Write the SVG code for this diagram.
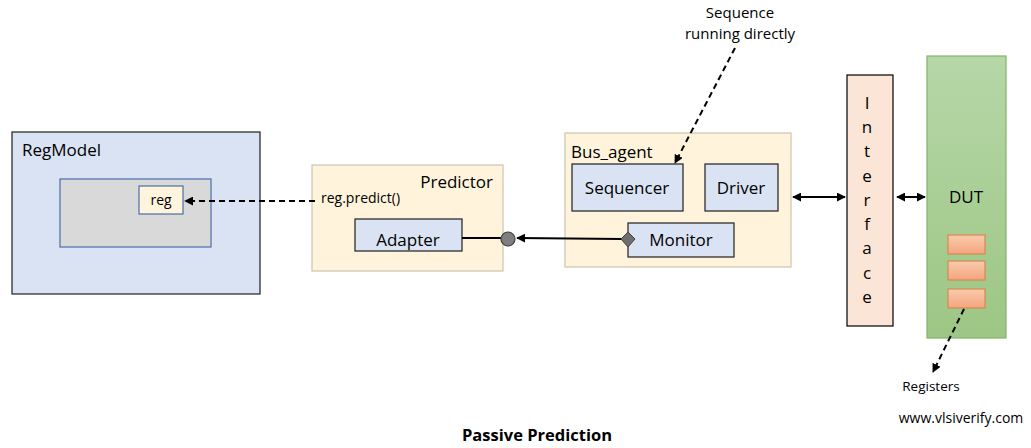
<svg xmlns="http://www.w3.org/2000/svg" width="1031" height="448" viewBox="0 0 1031 448">
<style>
text{font-family:"Open Sans","Liberation Sans",Arial,sans-serif;fill:#000}
.lbl{font-size:17px}
.sm{font-size:14px}
.blue{fill:#dae3f3;stroke:#1f1f1f;stroke-width:1.2}
.cream{fill:#fff4db;stroke:#cbc3b0;stroke-width:1.2}
.dash{fill:none;stroke:#000;stroke-width:2;stroke-dasharray:6 4}
.solid{fill:none;stroke:#000;stroke-width:2}
</style>
<defs>
<marker id="ah" viewBox="0 0 10 10" refX="9" refY="5" markerWidth="4.5" markerHeight="4.5" orient="auto-start-reverse"><path d="M0,0 L10,5 L0,10 z" fill="#000"/></marker>
<linearGradient id="dutg" x1="0" y1="0" x2="0" y2="1"><stop offset="0" stop-color="#b6d7a8"/><stop offset="1" stop-color="#9dc684"/></linearGradient>
<linearGradient id="regg" x1="0" y1="0" x2="0" y2="1"><stop offset="0" stop-color="#f8cbad"/><stop offset="1" stop-color="#f4a57e"/></linearGradient>
</defs>
<rect width="1031" height="448" fill="#fff"/>
<g id="regmodel">
<rect class="blue" x="12" y="132" width="248" height="162"/>
<text class="lbl" x="22" y="156">RegModel</text>
<rect x="60" y="179" width="151" height="68" fill="#d9d9d9" stroke="#4a6fa8" stroke-width="1.2"/>
</g>
<g id="reg">
<rect x="139" y="186" width="44" height="28" fill="#fff5dc" stroke="#4a6fa8" stroke-width="1.2"/>
<text class="sm" x="161" y="205" text-anchor="middle">reg</text>
</g>
<g id="predictor">
<rect class="cream" x="312" y="165" width="191" height="106"/>
<text class="lbl" x="493" y="188" text-anchor="end">Predictor</text>
<text class="sm" x="321" y="203">reg.predict()</text>
</g>
<g id="adapter">
<rect class="blue" x="355" y="219" width="107" height="32"/>
<text class="lbl" x="408" y="246" text-anchor="middle">Adapter</text>
</g>
<g id="bus_agent">
<rect class="cream" x="565" y="133" width="226" height="134"/>
<text class="lbl" x="571" y="158">Bus_agent</text>
</g>
<g id="sequencer">
<rect class="blue" x="572" y="164" width="111" height="47"/>
<text class="lbl" x="627" y="194" text-anchor="middle">Sequencer</text>
</g>
<g id="driver">
<rect class="blue" x="705" y="164" width="73" height="47"/>
<text class="lbl" x="741" y="194" text-anchor="middle">Driver</text>
</g>
<g id="monitor">
<rect class="blue" x="628" y="223" width="106" height="34"/>
<text class="lbl" x="681" y="246" text-anchor="middle">Monitor</text>
</g>
<g id="interface">
<rect x="847" y="75" width="46" height="251" fill="#fbe5d6" stroke="#000" stroke-width="1.2"/>
<text class="lbl" x="867" y="109" text-anchor="middle">I</text>
<text class="lbl" x="867" y="133" text-anchor="middle">n</text>
<text class="lbl" x="867" y="157" text-anchor="middle">t</text>
<text class="lbl" x="867" y="182" text-anchor="middle">e</text>
<text class="lbl" x="867" y="206" text-anchor="middle">r</text>
<text class="lbl" x="867" y="230" text-anchor="middle">f</text>
<text class="lbl" x="867" y="254" text-anchor="middle">a</text>
<text class="lbl" x="867" y="279" text-anchor="middle">c</text>
<text class="lbl" x="867" y="303" text-anchor="middle">e</text>
</g>
<g id="dut">
<rect x="927" y="56" width="79" height="282" fill="url(#dutg)" stroke="#82b366" stroke-width="1.2"/>
<text class="lbl" x="966" y="203" text-anchor="middle">DUT</text>
<rect x="948" y="235" width="37" height="19" fill="url(#regg)" stroke="#d9884f" stroke-width="1.2"/>
<rect x="948" y="261" width="37" height="19" fill="url(#regg)" stroke="#d9884f" stroke-width="1.2"/>
<rect x="948" y="289" width="37" height="19" fill="url(#regg)" stroke="#d9884f" stroke-width="1.2"/>
</g>
<g id="labels">
<text x="740" y="18" text-anchor="middle" style="font-size:15px">Sequence</text>
<text x="740" y="39" text-anchor="middle" style="font-size:15px">running directly</text>
<text x="931" y="391" text-anchor="middle" style="font-size:13.5px">Registers</text>
<text x="961" y="423" text-anchor="middle" style="font-size:14px">www.vlsiverify.com</text>
<text x="537" y="441" text-anchor="middle" style="font-size:16.5px;font-weight:bold">Passive Prediction</text>
</g>
<g id="connectors">
<path class="dash" d="M315,201 L185,201" marker-end="url(#ah)"/>
<path class="solid" d="M462,238 L501,238"/>
<circle cx="508" cy="239" r="7" fill="#7f7f7f" stroke="#404040" stroke-width="1.2"/>
<path class="solid" d="M622,239 L517,238" marker-end="url(#ah)" stroke-width="1.8"/>
<path d="M628,232 L635,239 L628,247 L621,239 z" fill="#6f6f6f" stroke="#404040" stroke-width="1"/>
<path class="dash" d="M735,48 L675,163" marker-end="url(#ah)"/>
<path class="solid" d="M793,197 L845,197" marker-start="url(#ah)" marker-end="url(#ah)" stroke-width="1.8"/>
<path class="solid" d="M897,197 L925,197" marker-start="url(#ah)" marker-end="url(#ah)" stroke-width="1.8"/>
<path class="dash" d="M964,309 L933,372" marker-end="url(#ah)"/>
</g>
</svg>
